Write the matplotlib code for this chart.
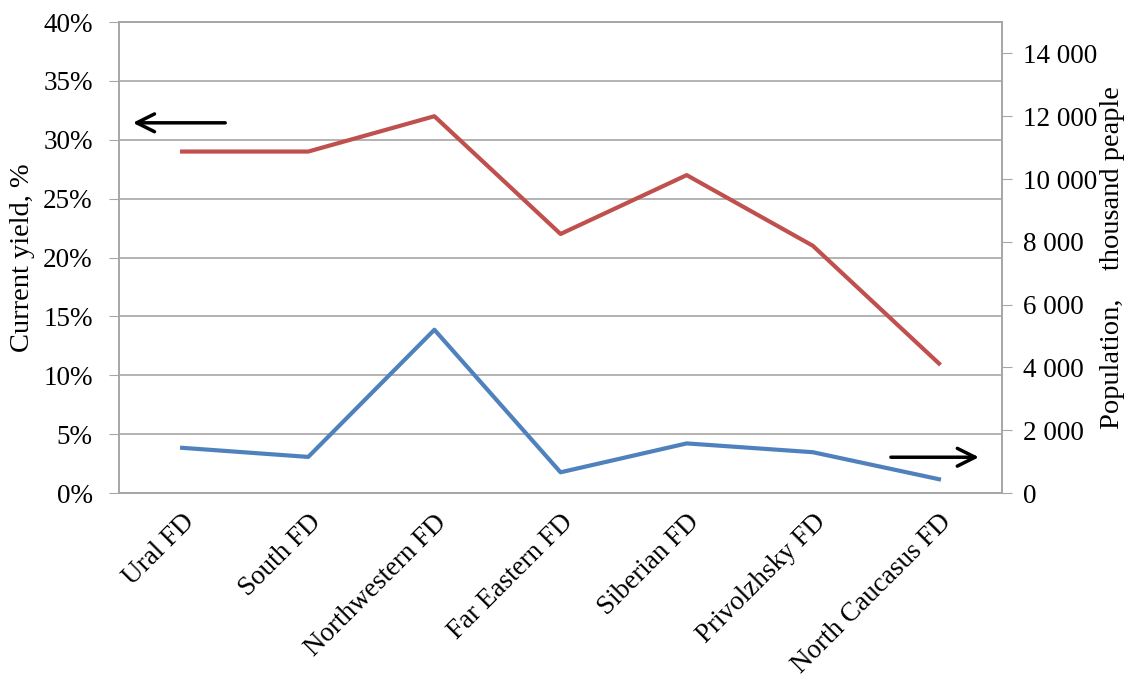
import matplotlib.pyplot as plt
from matplotlib.ticker import FuncFormatter

plt.rcParams['font.family'] = ['Liberation Serif', 'DejaVu Serif']

districts = ["Ural FD", "South FD", "Northwestern FD", "Far Eastern FD",
             "Siberian FD", "Privolzhsky FD", "North Caucasus FD"]
current_yield = [29, 29, 32, 22, 27, 21, 11]          # %, left axis
population = [1440, 1150, 5200, 660, 1580, 1300, 440]  # thousand people, right axis

RED = "#c0504d"
BLUE = "#4f81bd"
GRID = "#a6a6a6"
FS = 19.5

fig = plt.figure(figsize=(11.37, 6.84), dpi=100)
ax = fig.add_axes([0.1047, 0.2792, 0.7766, 0.6886])
ax2 = ax.twinx()

x = range(len(districts))
ax.plot(x, current_yield, color=RED, lw=3)
ax2.plot(x, population, color=BLUE, lw=3)

ax.set_xlim(-0.5, len(districts) - 0.5)
ax.set_ylim(0, 40)
ax.set_yticks(range(0, 41, 5))
ax.yaxis.set_major_formatter(FuncFormatter(lambda v, p: f"{v:.0f}%"))
ax.grid(axis="y", color=GRID, lw=1.2)
ax.set_axisbelow(True)

ax2.set_ylim(0, 15000)
ax2.set_yticks(range(0, 15000, 2000))
ax2.yaxis.set_major_formatter(
    FuncFormatter(lambda v, p: f"{int(v):,}".replace(",", " ")))

ax.set_xticks(list(x))
ax.set_xticklabels(districts, rotation=45, ha="right", rotation_mode="anchor",
                   fontsize=FS)
ax.tick_params(axis="x", length=0, pad=12)
ax.tick_params(axis="y", labelsize=FS, length=7, color=GRID, pad=12)
ax2.tick_params(axis="y", labelsize=FS, length=7, color=GRID, pad=8)

for a in (ax, ax2):
    for s in a.spines.values():
        s.set_color(GRID)
        s.set_linewidth(1.2)

ax.set_ylabel("Current yield, %", fontsize=20.5, labelpad=6)
ax2.set_ylabel("Population,    thousand peaple", fontsize=20.5, labelpad=2)

# direction arrows
ax.annotate("", xy=(0.0125, 0.786), xytext=(0.1234, 0.786),
            xycoords="axes fraction",
            arrowprops=dict(arrowstyle="->", color="black", lw=2.5,
                            mutation_scale=32))
ax.annotate("", xy=(0.977, 0.076), xytext=(0.871, 0.076),
            xycoords="axes fraction",
            arrowprops=dict(arrowstyle="->", color="black", lw=2.5,
                            mutation_scale=32))

fig.savefig("out.png", dpi=100)
